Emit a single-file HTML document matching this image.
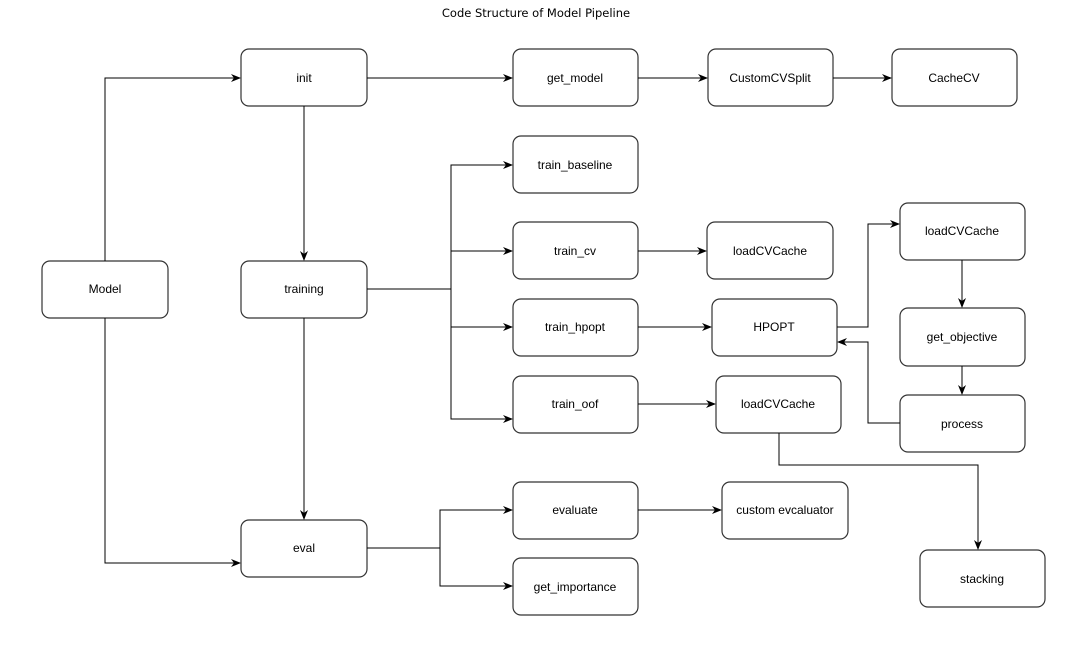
<!DOCTYPE html>
<html><head><style>
body{margin:0;background:#fff;width:1072px;height:640px;overflow:hidden}
svg text{font-family:"Liberation Sans",sans-serif;font-size:12px;fill:#000}
</style></head><body>
<svg width="1072" height="640" viewBox="0 0 1072 640" xmlns="http://www.w3.org/2000/svg">
<defs><marker id="a" markerWidth="10" markerHeight="8" refX="9" refY="4" orient="auto" markerUnits="userSpaceOnUse"><path d="M0,0 L10,4 L0,8 L3,4 Z" fill="#000"/></marker></defs>
<text x="536" y="17" text-anchor="middle" style="font-family:'DejaVu Sans',sans-serif;font-size:11.5px">Code Structure of Model Pipeline</text>
<g fill="#fff" stroke="#333" stroke-width="1.2">
<rect x="42" y="261" width="126" height="57" rx="8"/>
<rect x="241" y="49" width="126" height="57" rx="8"/>
<rect x="241" y="261" width="126" height="57" rx="8"/>
<rect x="241" y="520" width="126" height="57" rx="8"/>
<rect x="513" y="49" width="125" height="57" rx="8"/>
<rect x="708" y="49" width="125" height="57" rx="8"/>
<rect x="892" y="49" width="125" height="57" rx="8"/>
<rect x="513" y="136" width="125" height="57" rx="8"/>
<rect x="513" y="222" width="125" height="57" rx="8"/>
<rect x="513" y="299" width="125" height="57" rx="8"/>
<rect x="513" y="376" width="125" height="57" rx="8"/>
<rect x="707" y="222" width="126" height="57" rx="8"/>
<rect x="712" y="299" width="125" height="57" rx="8"/>
<rect x="716" y="376" width="125" height="57" rx="8"/>
<rect x="900" y="203" width="125" height="57" rx="8"/>
<rect x="900" y="308" width="125" height="58" rx="8"/>
<rect x="900" y="395" width="125" height="57" rx="8"/>
<rect x="513" y="482" width="125" height="57" rx="8"/>
<rect x="513" y="558" width="125" height="57" rx="8"/>
<rect x="722" y="482" width="126" height="57" rx="8"/>
<rect x="920" y="550" width="125" height="57" rx="8"/>
</g>
<g fill="none" stroke="#000" stroke-width="1" marker-end="url(#a)">
<path d="M105,261 V78 H240"/>
<path d="M105,318 V563 H240"/>
<path d="M304,106 V260"/>
<path d="M304,318 V519"/>
<path d="M367,78 H512"/>
<path d="M638,78 H707"/>
<path d="M833,78 H891"/>
<path d="M367,289 H451 V165 H512"/>
<path d="M451,251 H512"/>
<path d="M451,327 H512"/>
<path d="M451,289 V419 H512"/>
<path d="M638,251 H706"/>
<path d="M638,327 H711"/>
<path d="M638,404 H715"/>
<path d="M837,327 H868 V224 H899"/>
<path d="M962,260 V307"/>
<path d="M962,366 V394"/>
<path d="M900,423 H868 V342 H838"/>
<path d="M779,433 V465 H978 V549"/>
<path d="M367,548 H440 V510 H512"/>
<path d="M440,548 V586 H512"/>
<path d="M638,510 H721"/>
</g>
<g text-anchor="middle">
<text x="105" y="293">Model</text>
<text x="304" y="82">init</text>
<text x="304" y="293">training</text>
<text x="304" y="552">eval</text>
<text x="575" y="82">get_model</text>
<text x="770" y="82">CustomCVSplit</text>
<text x="954" y="82">CacheCV</text>
<text x="575" y="169">train_baseline</text>
<text x="575" y="255">train_cv</text>
<text x="575" y="331">train_hpopt</text>
<text x="575" y="408">train_oof</text>
<text x="770" y="255">loadCVCache</text>
<text x="774" y="331">HPOPT</text>
<text x="778" y="408">loadCVCache</text>
<text x="962" y="235">loadCVCache</text>
<text x="962" y="341">get_objective</text>
<text x="962" y="428">process</text>
<text x="575" y="514">evaluate</text>
<text x="575" y="591">get_importance</text>
<text x="785" y="514">custom evcaluator</text>
<text x="982" y="583">stacking</text>
</g>
</svg>
</body></html>
